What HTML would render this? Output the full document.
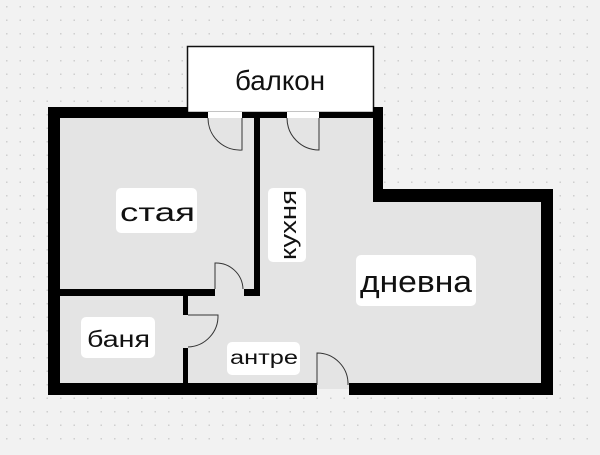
<!DOCTYPE html>
<html><head><meta charset="utf-8"><style>
html,body{margin:0;padding:0;}
body{width:600px;height:450px;overflow:hidden;background:#f2f2f2;font-family:"Liberation Sans",sans-serif;}
</style></head><body>
<svg width="600" height="450" xmlns="http://www.w3.org/2000/svg">
<defs>
<pattern id="d" width="13.5" height="13.5" patternUnits="userSpaceOnUse">
<rect x="6" y="6" width="1.5" height="1.5" fill="#cfcfcf"/>
</pattern>
</defs>
<rect width="600" height="450" fill="#f2f2f2"/>
<rect width="600" height="450" fill="url(#d)"/>
<polygon points="54,112 378,112 378,195 547,195 547,389 54,389" fill="#e4e4e4"/>
<rect x="187.5" y="46.5" width="186" height="66" fill="#fff" stroke="#111" stroke-width="1.5"/>
<text x="235" y="90" font-size="28" textLength="90" lengthAdjust="spacingAndGlyphs" fill="#111">балкон</text>
<g fill="#000">
<rect x="48" y="107" width="12" height="288"/>
<rect x="48" y="107" width="140" height="11"/>
<rect x="373" y="107" width="10" height="95"/>
<rect x="242" y="112" width="45" height="6"/>
<rect x="319" y="112" width="54" height="6"/>
<rect x="373" y="189" width="180" height="13"/>
<rect x="541" y="189" width="12" height="206"/>
<rect x="48" y="383" width="269" height="12"/>
<rect x="349" y="383" width="204" height="12"/>
<rect x="254" y="118" width="6" height="177"/>
<rect x="60" y="289" width="155" height="7"/>
<rect x="244" y="289" width="16" height="7"/>
<rect x="183" y="296" width="5" height="19"/>
<rect x="183" y="348" width="5" height="35"/>
</g>
<rect x="188" y="112" width="20" height="6" fill="#000"/>
<rect x="208" y="112" width="34" height="6" fill="#fff"/>
<rect x="287" y="112" width="32" height="6" fill="#fff"/>
<g fill="none" stroke="#333" stroke-width="1">
<path d="M242,118 V150 A32,32 0 0 1 208,118"/>
<path d="M319,118 V150 A32,32 0 0 1 287,118"/>
<path d="M215,289 V263 A27,27 0 0 1 243,289"/>
<path d="M188,315 H218 A31,31 0 0 1 188,347"/>
<path d="M317,385 V353 A31,31 0 0 1 348,385"/>
</g>
<g fill="#fff">
<rect x="116" y="188" width="81" height="45" rx="5"/>
<rect x="268" y="188" width="38" height="74" rx="5"/>
<rect x="356" y="255" width="120" height="51" rx="5"/>
<rect x="81" y="317" width="74" height="41" rx="5"/>
<rect x="227" y="342" width="73" height="33" rx="5"/>
</g>
<g fill="#111">
<text x="120" y="221" font-size="26" textLength="75" lengthAdjust="spacingAndGlyphs">стая</text>
<text transform="translate(296,260) rotate(-90)" font-size="22" textLength="70" lengthAdjust="spacingAndGlyphs">кухня</text>
<text x="360" y="292" font-size="31" textLength="112" lengthAdjust="spacingAndGlyphs">дневна</text>
<text x="87" y="347" font-size="23" textLength="63" lengthAdjust="spacingAndGlyphs">баня</text>
<text x="230" y="364" font-size="19" textLength="68" lengthAdjust="spacingAndGlyphs">антре</text>
</g>
</svg>
</body></html>
